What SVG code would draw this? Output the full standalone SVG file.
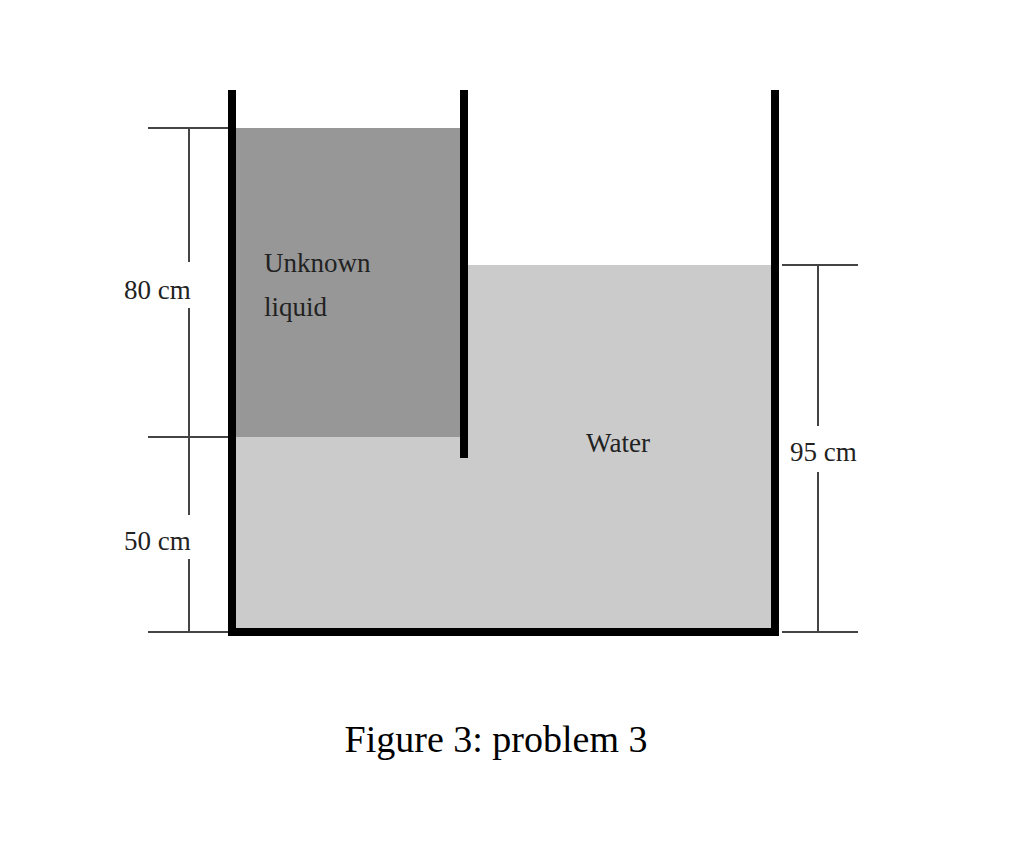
<svg xmlns="http://www.w3.org/2000/svg" width="1024" height="854" viewBox="0 0 1024 854">
<style>
.wall{stroke:#000;stroke-width:8;fill:none}
.dim{stroke:#444;stroke-width:2;fill:none}
.lbl{font-family:"Liberation Serif",serif;font-size:27px;fill:#222}
.cap{font-family:"Liberation Serif",serif;font-size:38px;fill:#000}
</style>
<rect width="1024" height="854" fill="#fff"/>
<g id="water"><rect x="236" y="437" width="536" height="192" fill="#cbcbcb"/><rect x="464" y="265" width="308" height="175" fill="#cbcbcb"/></g>
<g id="unknown"><rect x="236" y="128" width="226" height="309" fill="#979797"/></g>
<g id="tank">
<path class="wall" d="M232 90 V632 H775 V90"/>
<line class="wall" x1="464" y1="90" x2="464" y2="458"/>
</g>
<g id="dims">
<line class="dim" x1="148" y1="128" x2="228" y2="128"/>
<line class="dim" x1="148" y1="437" x2="228" y2="437"/>
<line class="dim" x1="148" y1="632" x2="228" y2="632"/>
<line class="dim" x1="189" y1="128" x2="189" y2="262"/>
<line class="dim" x1="189" y1="308" x2="189" y2="515"/>
<line class="dim" x1="189" y1="559" x2="189" y2="632"/>
<line class="dim" x1="782" y1="265" x2="858" y2="265"/>
<line class="dim" x1="782" y1="632" x2="858" y2="632"/>
<line class="dim" x1="818" y1="265" x2="818" y2="426"/>
<line class="dim" x1="818" y1="472" x2="818" y2="632"/>
</g>
<g id="labels">
<text class="lbl" x="124" y="299">80 cm</text>
<text class="lbl" x="124" y="550">50 cm</text>
<text class="lbl" x="790" y="461">95 cm</text>
<text class="lbl" x="264" y="272">Unknown</text>
<text class="lbl" x="264" y="316">liquid</text>
<text class="lbl" x="618" y="452" text-anchor="middle">Water</text>
<text class="cap" x="496" y="752" text-anchor="middle">Figure 3: problem 3</text>
</g>
</svg>
